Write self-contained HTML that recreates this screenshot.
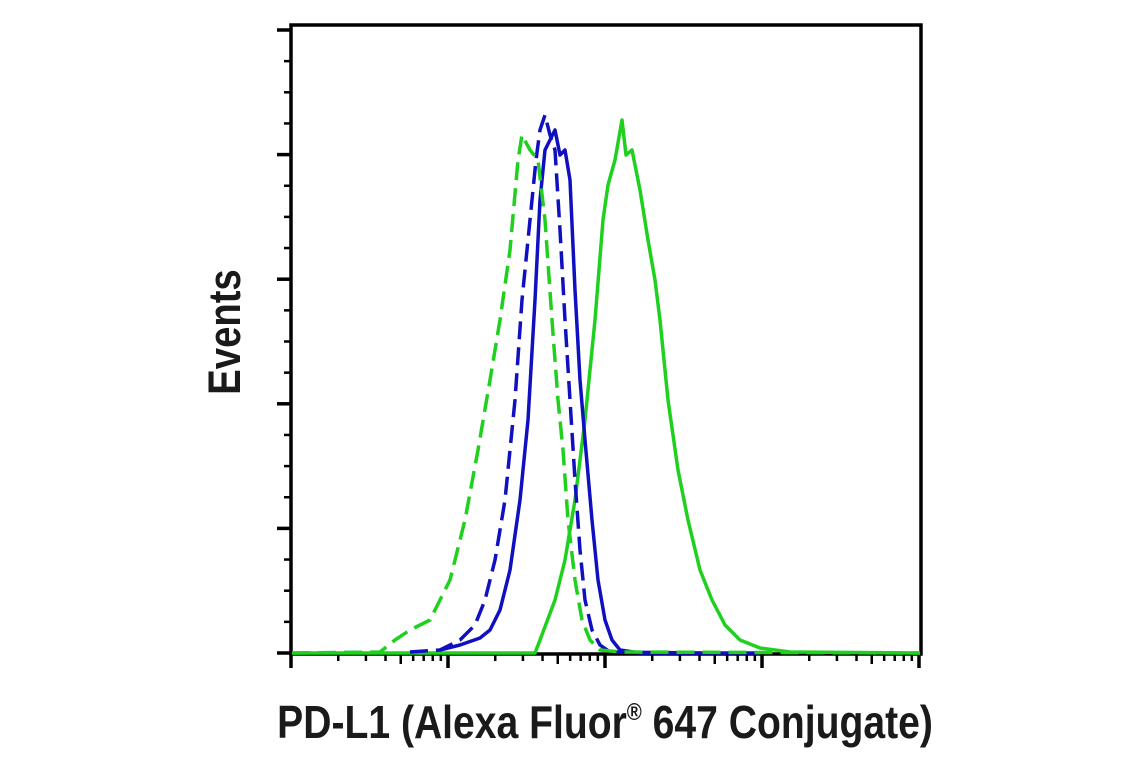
<!DOCTYPE html>
<html><head><style>
body{margin:0;background:#fff;width:1141px;height:768px;overflow:hidden}
svg{display:block}
text{font-family:"Liberation Sans",sans-serif;font-weight:bold;fill:#1a1a1a}
</style></head><body>
<svg width="1141" height="768" viewBox="0 0 1141 768">
<rect x="291" y="25" width="630" height="629" fill="none" stroke="#000" stroke-width="3.5"/>
<g stroke="#000" stroke-width="2.5" id="ticks"></g>
<g fill="none" stroke-width="3.5" stroke-linejoin="round">
<polyline stroke="#1fd01f" points="292,653 535,653 540,640 555,600 565,560 575,500 585,420 595,320 603,220 608,185 615,160 622,120 626,155 632,150 640,190 648,240 655,280 660,320 668,400 678,470 688,520 700,570 712,600 725,625 740,640 760,648 790,652 920,653"/>
<polyline stroke="#1010c0" points="440,650 460,645 480,638 490,630 500,610 510,570 520,500 528,420 535,300 540,200 545,150 550,140 555,130 560,155 565,150 570,180 575,290 580,380 585,440 592,520 598,580 605,620 612,640 620,650 640,653 760,653"/>
<polyline stroke="#1010c0" stroke-dasharray="18,8" points="410,652 440,650 460,640 475,625 485,600 495,560 505,500 515,400 522,300 530,220 536,160 540,130 545,115 550,135 555,150 560,230 565,320 570,400 575,480 580,550 585,600 592,630 600,645 610,652 700,653"/>
<polyline stroke="#1fd01f" stroke-dasharray="18,8" points="292,653 380,652 395,640 410,630 430,620 450,580 465,520 478,450 490,380 500,320 510,250 518,160 522,135 530,150 538,160 545,220 552,320 558,400 563,450 568,520 575,580 582,620 590,640 600,650 620,652 920,653"/>
</g>
<text x="0" y="0" font-size="45" text-anchor="middle" transform="translate(240,332) rotate(-90) scale(0.85,1)">Events</text>
<text x="0" y="0" font-size="46" text-anchor="middle" transform="translate(605,738) scale(0.85,1)">PD-L1 (Alexa Fluor<tspan font-size="24" dy="-18">®</tspan><tspan dy="18"> 647 Conjugate)</tspan></text>
</svg>
<script>
var g=document.getElementById('ticks'),s='';
for(var i=0;i<=20;i++){var y=30+i*31.15;var L=(i%4==0)?14:7;s+='<line x1="'+(291-L)+'" y1="'+y+'" x2="291" y2="'+y+'"'+(i%4==0?' stroke-width="3.5"':'')+'/>';}
for(var d=0;d<4;d++){var x0=291+d*157;s+='<line x1="'+x0+'" y1="654" x2="'+x0+'" y2="668" stroke-width="3.5"/>';for(var k=2;k<10;k++){var x=x0+Math.log10(k)*157;s+='<line x1="'+x+'" y1="654" x2="'+x+'" y2="'+(k==5?664:661)+'"/>';}}
s+='<line x1="919" y1="654" x2="919" y2="668" stroke-width="3.5"/>';
g.innerHTML=s;
</script>
</body></html>
